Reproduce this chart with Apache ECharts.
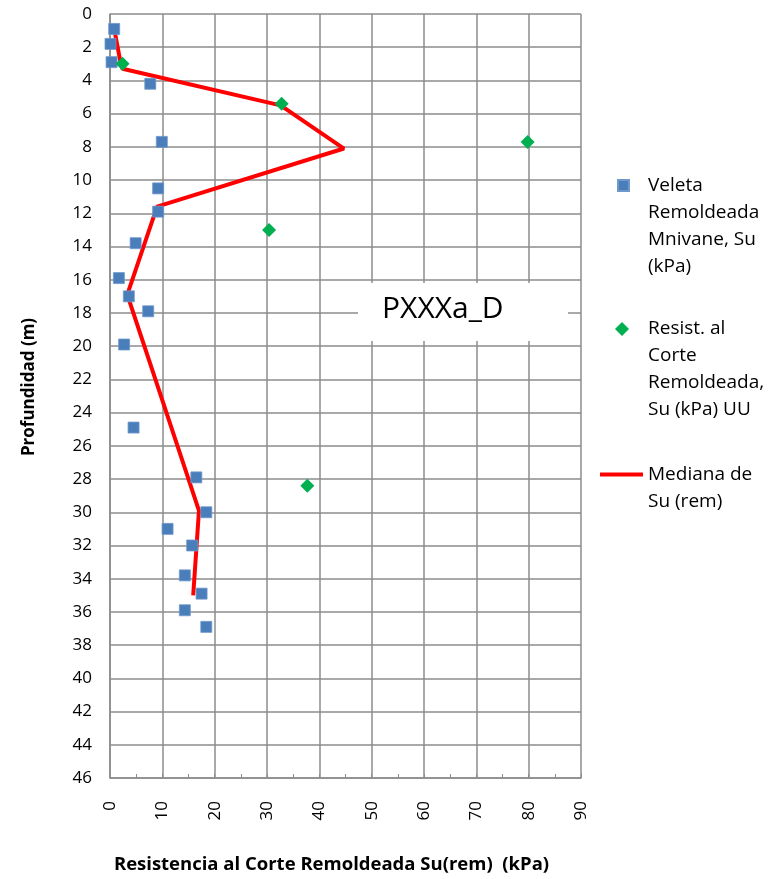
<!DOCTYPE html>
<html>
<head>
<meta charset="utf-8">
<script src="https://cdn.jsdelivr.net/npm/echarts@6/dist/echarts.min.js"></script>
<style>
html, body { margin: 0; padding: 0; background: #fff; }
#chart { width: 782px; height: 879px; }
</style>
</head>
<body>
<div id="chart"></div>
<script>
// Veleta Remoldeada Mnivane (kPa, m)
var veletaSu = [0.8, 0.1, 0.3, 7.7, 9.9, 9.2, 9.2, 4.9, 1.7, 3.6, 7.3, 2.7, 4.5, 16.5, 18.4, 11.0, 15.7, 14.3, 17.5, 14.3, 18.4];
var veletaProf = [0.9, 1.8, 2.9, 4.2, 7.7, 10.5, 11.9, 13.8, 15.9, 17.0, 17.9, 19.9, 24.9, 27.9, 30.0, 31.0, 32.0, 33.8, 34.9, 35.9, 36.9];
// Resist. al Corte Remoldeada UU
var uuSu = [2.4, 32.8, 79.8, 30.4, 37.7];
var uuProf = [3.0, 5.4, 7.7, 13.0, 28.4];
// Mediana de Su (rem)
var medSu = [0.8, 2.0, 2.4, 32.6, 44.7, 9.0, 3.3, 17.0, 15.9];
var medProf = [0.9, 2.9, 3.3, 5.5, 8.1, 11.6, 16.9, 29.9, 35.0];

var nameVeleta = 'Veleta\nRemoldeada\nMnivane, Su\n(kPa)';
var nameUU = 'Resist. al\nCorte\nRemoldeada,\nSu (kPa) UU';
var nameMed = 'Mediana de\nSu (rem)';

function pares(xs, ys) {
    var out = [];
    for (var i = 0; i < xs.length; i++) {
        out.push([xs[i], ys[i]]);
    }
    return out;
}

// el texto de la leyenda queda centrado en el icono: se rellenan lineas vacias
// arriba para que la primera linea quede a la altura del icono
function bajarTexto(nombre) {
    var n = nombre.split('\n').length - 1;
    var pre = '';
    for (var i = 0; i < n; i++) pre += '\n';
    return pre + nombre;
}

var gris = '#8c8c8c';
var fuente = 'Open Sans';
var textoLeyenda = { fontFamily: fuente, fontSize: 19, lineHeight: 27, color: '#000', padding: [0, 0, 0, 14] };

var myChart = echarts.init(document.getElementById('chart'));
var option = {
    backgroundColor: '#fff',
    animation: false,
    grid: { left: 110, top: 14, right: 201, bottom: 100 },
    xAxis: {
        type: 'value',
        min: 0, max: 90, interval: 10,
        name: 'Resistencia al Corte Remoldeada Su(rem)  (kPa)',
        nameLocation: 'middle',
        nameGap: 77,
        nameTextStyle: { fontFamily: fuente, fontWeight: 'bold', fontSize: 18.5, color: '#000', padding: [0, 28, 0, 0] },
        axisLine: { onZero: false, lineStyle: { color: gris, width: 1.5 } },
        axisTick: { show: true, inside: true, length: 4, lineStyle: { color: gris } },
        minorTick: { show: true, splitNumber: 2, length: 4, lineStyle: { color: gris } },
        axisLabel: { rotate: 90, margin: 23, fontFamily: fuente, fontSize: 17, color: '#000' },
        splitLine: { show: true, lineStyle: { color: gris, width: 1.5 } }
    },
    yAxis: {
        type: 'value',
        inverse: true,
        min: 0, max: 46, interval: 2,
        name: 'Profundidad (m)',
        nameLocation: 'middle',
        nameGap: 72,
        nameTextStyle: { fontFamily: fuente, fontWeight: 'bold', fontSize: 17, color: '#000', padding: [0, 0, 0, 18] },
        axisLine: { show: true, onZero: false, lineStyle: { color: gris, width: 1.5 } },
        axisTick: { show: false },
        axisLabel: { margin: 18, fontFamily: fuente, fontSize: 17, color: '#000' },
        splitLine: { show: true, lineStyle: { color: gris, width: 1.5 } }
    },
    legend: [
        {
            data: [nameVeleta], left: 617, top: 91, padding: 0,
            itemWidth: 11, itemHeight: 11,
            formatter: bajarTexto,
            textStyle: textoLeyenda
        },
        {
            data: [nameUU], left: 615, top: 234.5, padding: 0,
            itemWidth: 14, itemHeight: 14,
            formatter: bajarTexto,
            textStyle: textoLeyenda
        },
        {
            data: [{ name: nameMed, icon: 'rect' }], left: 600, top: 434, padding: 0,
            itemWidth: 43, itemHeight: 4,
            formatter: bajarTexto,
            textStyle: { fontFamily: fuente, fontSize: 19, lineHeight: 27, color: '#000' }
        }
    ],
    graphic: [
        {
            type: 'rect', left: 358, top: 283, z: 10,
            shape: { width: 210, height: 58 },
            style: { fill: '#fff' }
        },
        {
            type: 'text', left: 382, top: 294, z: 11,
            style: { text: 'PXXXa_D', fontFamily: fuente, fontSize: 30, fill: '#000' }
        }
    ],
    series: [
        {
            name: nameMed,
            type: 'line',
            data: pares(medSu, medProf),
            symbol: 'none',
            z: 2,
            lineStyle: { color: '#ff0000', width: 4 },
            itemStyle: { color: '#ff0000' }
        },
        {
            name: nameVeleta,
            type: 'scatter',
            data: pares(veletaSu, veletaProf),
            symbol: 'rect',
            symbolSize: 11,
            z: 3,
            itemStyle: { color: '#4a7ebb', opacity: 1, borderColor: '#6f98cc', borderWidth: 0.8 }
        },
        {
            name: nameUU,
            type: 'scatter',
            data: pares(uuSu, uuProf),
            symbol: 'diamond',
            symbolSize: 14,
            z: 4,
            itemStyle: { color: '#00b050', opacity: 1 }
        }
    ]
};
myChart.setOption(option);
</script>
</body>
</html>
